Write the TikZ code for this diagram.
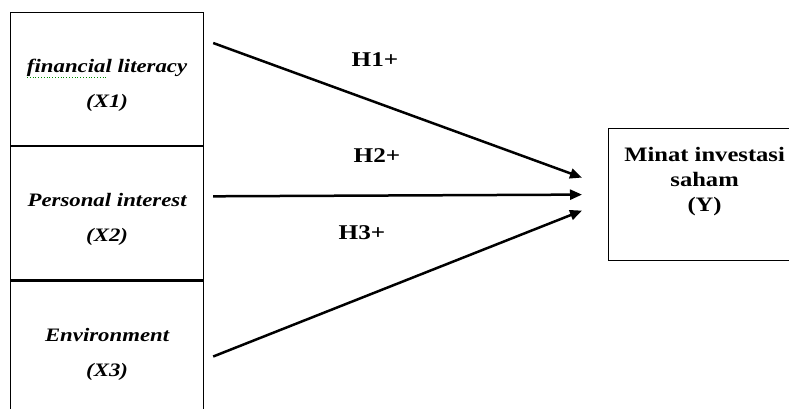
\documentclass[tikz,border=0pt]{standalone}
\usepackage{fontspec}
\setmainfont[FakeStretch=1.2]{Liberation Serif}
\usetikzlibrary{arrows.meta, positioning, calc}

\tikzset{
  varbox/.style={draw, line width=1.2pt, minimum width=193pt, minimum height=133pt, inner sep=0pt},
  vartext/.style={align=center, font=\fontsize{19}{35}\selectfont\bfseries\itshape},
  hyp/.style={line width=2.5pt, -{Triangle[length=12pt, width=10pt]}},
  hlabel/.style={font=\fontsize{21}{24}\selectfont\bfseries},
}

\begin{document}
\begin{tikzpicture}[x=1pt, y=-1pt]
  \clip (0,0) rectangle (789,408);
  \fill[white] (0,0) rectangle (789,408);

  % Independent variables
  \node[varbox, anchor=north west] (fin) at (10,12) {};
  \node[varbox, below=0pt of fin] (pers) {};
  \node[varbox, below=0pt of pers] (env) {};
  \node[vartext] (fintxt) at ($(fin.center)+(0,6)$) {financial literacy\\(X1)};
  \node[vartext] (perstxt) at ($(pers.center)+(0,6)$) {Personal interest\\(X2)};
  \node[vartext] (envtxt) at ($(env.center)+(0,7)$) {Environment\\(X3)};
  \draw[green!55!black, line width=0.8pt, dotted] ($(fin.north west)+(17,65)$) -- ($(fin.north west)+(98,65)$);

  % Dependent variable
  \node[draw, line width=1.2pt, minimum width=192pt, minimum height=132pt, anchor=north west] (minat) at (608,128) {};
  \node[align=center, font=\fontsize{20.5}{25}\selectfont\bfseries] (minattxt) at ($(minat.center)+(0,-13)$) {Minat investasi\\saham\\(Y)};

  % Hypotheses
  \coordinate (s1) at ($(fin.north east)+(9,31)$);
  \coordinate (s2) at ($(pers.east)+(9,-17)$);
  \coordinate (s3) at ($(env.east)+(9,9)$);
  \coordinate (t1) at ($(minat.west)+(-26,-17)$);
  \coordinate (t2) at ($(minat.west)+(-26,0)$);
  \coordinate (t3) at ($(minat.west)+(-26,16)$);
  \draw[hyp] (s1) -- (t1);
  \draw[hyp] (s2) -- (t2);
  \draw[hyp] (s3) -- (t3);

  \node[hlabel] (h1) at (375,60) {H1+};
  \node[hlabel] (h2) at (377,156) {H2+};
  \node[hlabel] (h3) at (362,233) {H3+};
\end{tikzpicture}
\end{document}
